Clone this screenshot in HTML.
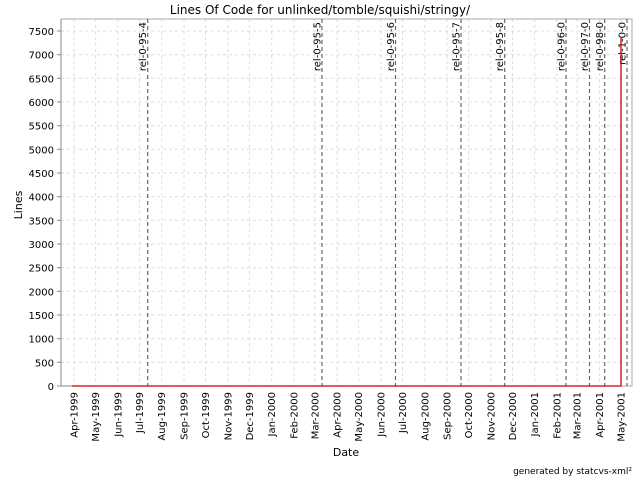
<!DOCTYPE html>
<html><head><style>body{margin:0;background:#fff}svg{display:block}text{font-family:"DejaVu Sans","Liberation Sans",sans-serif;fill:#000}</style></head><body>
<svg width="640" height="480" xmlns="http://www.w3.org/2000/svg">
<rect width="640" height="480" fill="#fff"/>
<text x="320" y="14" font-size="12" text-anchor="middle">Lines Of Code for unlinked/tomble/squishi/stringy/</text>
<g stroke="#ddd" stroke-width="1" stroke-dasharray="3,3">
<line x1="61" x2="632" y1="362.3" y2="362.3"/><line x1="61" x2="632" y1="338.7" y2="338.7"/><line x1="61" x2="632" y1="315" y2="315"/><line x1="61" x2="632" y1="291.3" y2="291.3"/><line x1="61" x2="632" y1="267.7" y2="267.7"/><line x1="61" x2="632" y1="244" y2="244"/><line x1="61" x2="632" y1="220.3" y2="220.3"/><line x1="61" x2="632" y1="196.7" y2="196.7"/><line x1="61" x2="632" y1="173" y2="173"/><line x1="61" x2="632" y1="149.3" y2="149.3"/><line x1="61" x2="632" y1="125.7" y2="125.7"/><line x1="61" x2="632" y1="102" y2="102"/><line x1="61" x2="632" y1="78.3" y2="78.3"/><line x1="61" x2="632" y1="54.7" y2="54.7"/><line x1="61" x2="632" y1="31" y2="31"/>
<line y1="19" y2="386" x1="74" x2="74"/><line y1="19" y2="386" x1="95.6" x2="95.6"/><line y1="19" y2="386" x1="117.8" x2="117.8"/><line y1="19" y2="386" x1="139.4" x2="139.4"/><line y1="19" y2="386" x1="161.7" x2="161.7"/><line y1="19" y2="386" x1="184" x2="184"/><line y1="19" y2="386" x1="205.5" x2="205.5"/><line y1="19" y2="386" x1="227.8" x2="227.8"/><line y1="19" y2="386" x1="249.4" x2="249.4"/><line y1="19" y2="386" x1="271.7" x2="271.7"/><line y1="19" y2="386" x1="294" x2="294"/><line y1="19" y2="386" x1="314.8" x2="314.8"/><line y1="19" y2="386" x1="337.1" x2="337.1"/><line y1="19" y2="386" x1="358.6" x2="358.6"/><line y1="19" y2="386" x1="380.9" x2="380.9"/><line y1="19" y2="386" x1="402.5" x2="402.5"/><line y1="19" y2="386" x1="424.8" x2="424.8"/><line y1="19" y2="386" x1="447.1" x2="447.1"/><line y1="19" y2="386" x1="468.6" x2="468.6"/><line y1="19" y2="386" x1="490.9" x2="490.9"/><line y1="19" y2="386" x1="512.5" x2="512.5"/><line y1="19" y2="386" x1="534.7" x2="534.7"/><line y1="19" y2="386" x1="557" x2="557"/><line y1="19" y2="386" x1="577.1" x2="577.1"/><line y1="19" y2="386" x1="599.4" x2="599.4"/><line y1="19" y2="386" x1="621" x2="621"/>
</g>
<rect x="61" y="19" width="571" height="367" fill="none" stroke="#aaa"/>
<g stroke="#666" stroke-width="1.2" stroke-dasharray="4,3">
<line x1="147.7" x2="147.7" y1="19" y2="386"/><line x1="322" x2="322" y1="19" y2="386"/><line x1="395.5" x2="395.5" y1="19" y2="386"/><line x1="461" x2="461" y1="19" y2="386"/><line x1="504.7" x2="504.7" y1="19" y2="386"/><line x1="566" x2="566" y1="19" y2="386"/><line x1="589.5" x2="589.5" y1="19" y2="386"/><line x1="604.7" x2="604.7" y1="19" y2="386"/><line x1="627" x2="627" y1="19" y2="386"/>
</g>
<g font-size="10" text-anchor="end">
<text transform="translate(146,22) rotate(-90)">rel-0-95-4</text>
<text transform="translate(320.3,22) rotate(-90)">rel-0-95-5</text>
<text transform="translate(393.8,22) rotate(-90)">rel-0-95-6</text>
<text transform="translate(459.3,22) rotate(-90)">rel-0-95-7</text>
<text transform="translate(503,22) rotate(-90)">rel-0-95-8</text>
<text transform="translate(564.3,22) rotate(-90)">rel-0-96-0</text>
<text transform="translate(587.8,22) rotate(-90)">rel-0-97-0</text>
<text transform="translate(603,22) rotate(-90)">rel-0-98-0</text>
<text transform="translate(625.3,22) rotate(-90)">rel-1-0-0</text>
</g>
<polyline points="72,386 621,386 621,38" fill="none" stroke="#cc0000" stroke-width="1.3"/>
<line x1="61" x2="61" y1="19" y2="386" stroke="#888"/>
<line x1="61" x2="72" y1="386" y2="386" stroke="#888"/>
<g font-size="10" text-anchor="end">
<text x="54" y="390">0</text><text x="54" y="366.3">500</text><text x="54" y="342.7">1000</text><text x="54" y="319">1500</text><text x="54" y="295.3">2000</text><text x="54" y="271.7">2500</text><text x="54" y="248">3000</text><text x="54" y="224.3">3500</text><text x="54" y="200.7">4000</text><text x="54" y="177">4500</text><text x="54" y="153.3">5000</text><text x="54" y="129.7">5500</text><text x="54" y="106">6000</text><text x="54" y="82.3">6500</text><text x="54" y="58.7">7000</text><text x="54" y="35">7500</text>
</g>
<g stroke="#888"><line x1="57" x2="61" y1="386" y2="386"/><line x1="57" x2="61" y1="362.3" y2="362.3"/><line x1="57" x2="61" y1="338.7" y2="338.7"/><line x1="57" x2="61" y1="315" y2="315"/><line x1="57" x2="61" y1="291.3" y2="291.3"/><line x1="57" x2="61" y1="267.7" y2="267.7"/><line x1="57" x2="61" y1="244" y2="244"/><line x1="57" x2="61" y1="220.3" y2="220.3"/><line x1="57" x2="61" y1="196.7" y2="196.7"/><line x1="57" x2="61" y1="173" y2="173"/><line x1="57" x2="61" y1="149.3" y2="149.3"/><line x1="57" x2="61" y1="125.7" y2="125.7"/><line x1="57" x2="61" y1="102" y2="102"/><line x1="57" x2="61" y1="78.3" y2="78.3"/><line x1="57" x2="61" y1="54.7" y2="54.7"/><line x1="57" x2="61" y1="31" y2="31"/></g>
<g font-size="10" text-anchor="end">
<text transform="translate(77.5,392) rotate(-90)">Apr-1999</text>
<text transform="translate(99.1,392) rotate(-90)">May-1999</text>
<text transform="translate(121.3,392) rotate(-90)">Jun-1999</text>
<text transform="translate(142.9,392) rotate(-90)">Jul-1999</text>
<text transform="translate(165.2,392) rotate(-90)">Aug-1999</text>
<text transform="translate(187.5,392) rotate(-90)">Sep-1999</text>
<text transform="translate(209,392) rotate(-90)">Oct-1999</text>
<text transform="translate(231.3,392) rotate(-90)">Nov-1999</text>
<text transform="translate(252.9,392) rotate(-90)">Dec-1999</text>
<text transform="translate(275.2,392) rotate(-90)">Jan-2000</text>
<text transform="translate(297.5,392) rotate(-90)">Feb-2000</text>
<text transform="translate(318.3,392) rotate(-90)">Mar-2000</text>
<text transform="translate(340.6,392) rotate(-90)">Apr-2000</text>
<text transform="translate(362.1,392) rotate(-90)">May-2000</text>
<text transform="translate(384.4,392) rotate(-90)">Jun-2000</text>
<text transform="translate(406,392) rotate(-90)">Jul-2000</text>
<text transform="translate(428.3,392) rotate(-90)">Aug-2000</text>
<text transform="translate(450.6,392) rotate(-90)">Sep-2000</text>
<text transform="translate(472.1,392) rotate(-90)">Oct-2000</text>
<text transform="translate(494.4,392) rotate(-90)">Nov-2000</text>
<text transform="translate(516,392) rotate(-90)">Dec-2000</text>
<text transform="translate(538.2,392) rotate(-90)">Jan-2001</text>
<text transform="translate(560.5,392) rotate(-90)">Feb-2001</text>
<text transform="translate(580.6,392) rotate(-90)">Mar-2001</text>
<text transform="translate(602.9,392) rotate(-90)">Apr-2001</text>
<text transform="translate(624.5,392) rotate(-90)">May-2001</text>
</g>
<text x="346" y="456" font-size="11" text-anchor="middle">Date</text>
<text transform="translate(22,205) rotate(-90)" font-size="11" text-anchor="middle">Lines</text>
<text x="632" y="474" font-size="9" text-anchor="end">generated by statcvs-xml²</text>
</svg>
</body></html>
